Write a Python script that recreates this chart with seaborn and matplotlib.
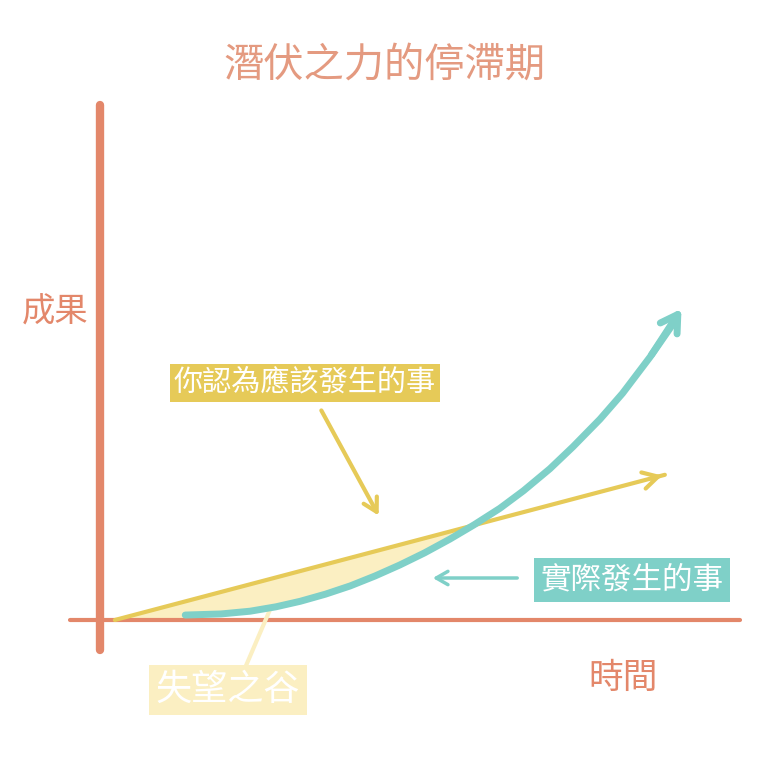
import numpy as np
import matplotlib
matplotlib.use("Agg")
import matplotlib.pyplot as plt
import seaborn as sns
import pandas as pd

sns.set_theme(style="white")
plt.rcParams['font.family'] = ['Noto Sans CJK TC', 'DejaVu Sans']

# data (time units, result units)
expected_t = [0.27, 10.27]
expected_v = [0.0, 2.64]
actual_t = [1.55, 2.2, 2.73, 3.2, 3.64, 4.1, 4.55, 5.0, 5.45, 5.9, 6.36, 6.8, 7.27, 7.7, 8.18, 8.6, 9.09, 9.5, 10.0, 10.5]
actual_v = [0.09, 0.11, 0.16, 0.24, 0.34, 0.47, 0.62, 0.8, 1.0, 1.22, 1.47, 1.73, 2.03, 2.35, 2.75, 3.15, 3.65, 4.12, 4.78, 5.5]
title = "潛伏之力的停滯期"

ORANGE = "#E3876A"
TEAL = "#7FD0C8"
YEL = "#E6CA58"
PALE = "#FBEFC2"

S = 55.0
def px(x, y):
    return ((x - 100) / S, (620 - y) / S)

fig = plt.figure(figsize=(7.68, 7.59), dpi=100)
ax = fig.add_axes([0, 0, 1, 1])
ax.set_xlim(-100 / S, 668 / S)
ax.set_ylim(-139 / S, 620 / S)
ax.axis("off")

ax.plot(*zip(px(70, 620), px(740, 620)), color=ORANGE, lw=3, solid_capstyle="round")
ax.plot(*zip(px(100, 105), px(100, 650)), color=ORANGE, lw=6, solid_capstyle="round")

ta = np.array(actual_t); va = np.array(actual_v)
lin = np.interp(ta, expected_t, expected_v)
ax.fill_between(ta, va, lin, where=lin >= va, interpolate=True, color=PALE, zorder=1)
ax.fill_between([expected_t[0], ta[0]], [0, 0], np.interp([expected_t[0], ta[0]], expected_t, expected_v), color=PALE, zorder=1)

df_e = pd.DataFrame({"t": expected_t, "v": expected_v})
df_a = pd.DataFrame({"t": actual_t, "v": actual_v})
sns.lineplot(data=df_e, x="t", y="v", ax=ax, color=YEL, lw=3, zorder=3)
sns.lineplot(data=df_a, x="t", y="v", ax=ax, color=TEAL, lw=5, zorder=4, sort=False)
ax.set_xlabel(""); ax.set_ylabel("")

ax.annotate("", xy=(expected_t[1], expected_v[1]), xytext=(expected_t[1] - 0.3, expected_v[1] - 0.08),
            arrowprops=dict(arrowstyle="->,head_length=0.9,head_width=0.5", color=YEL, lw=3))
ax.annotate("", xy=(actual_t[-1] + 0.1, actual_v[-1] + 0.2), xytext=(actual_t[-2], actual_v[-2]),
            arrowprops=dict(arrowstyle="->,head_length=1.0,head_width=0.6", color=TEAL, lw=5))

ax.annotate("", xy=px(380, 518), xytext=px(320, 408),
            arrowprops=dict(arrowstyle="->,head_length=0.8,head_width=0.45", color=YEL, lw=3))
ax.annotate("", xy=px(430, 578), xytext=px(520, 578),
            arrowprops=dict(arrowstyle="->,head_length=0.7,head_width=0.4", color=TEAL, lw=2.5))
ax.plot(*zip(px(272, 605), px(245, 668)), color=PALE, lw=3)

ax.text(*px(384, 65), title, color="#E49A80", fontsize=29, ha="center", va="center")
ax.text(*px(55, 312), "成果", color=ORANGE, fontsize=24, ha="center", va="center")
ax.text(*px(623, 678), "時間", color=ORANGE, fontsize=25, ha="center", va="center")
ax.text(*px(305, 383), "你認為應該發生的事", color="white", fontsize=21, ha="center", va="center",
        bbox=dict(boxstyle="square,pad=0.15", fc=YEL, ec="none"))
ax.text(*px(632, 580), "實際發生的事", color="white", fontsize=22, ha="center", va="center",
        bbox=dict(boxstyle="square,pad=0.2", fc=TEAL, ec="none"))
ax.text(*px(228, 690), "失望之谷", color="white", fontsize=26, ha="center", va="center",
        bbox=dict(boxstyle="square,pad=0.2", fc=PALE, ec="none"))

fig.savefig("out.png", dpi=100)
